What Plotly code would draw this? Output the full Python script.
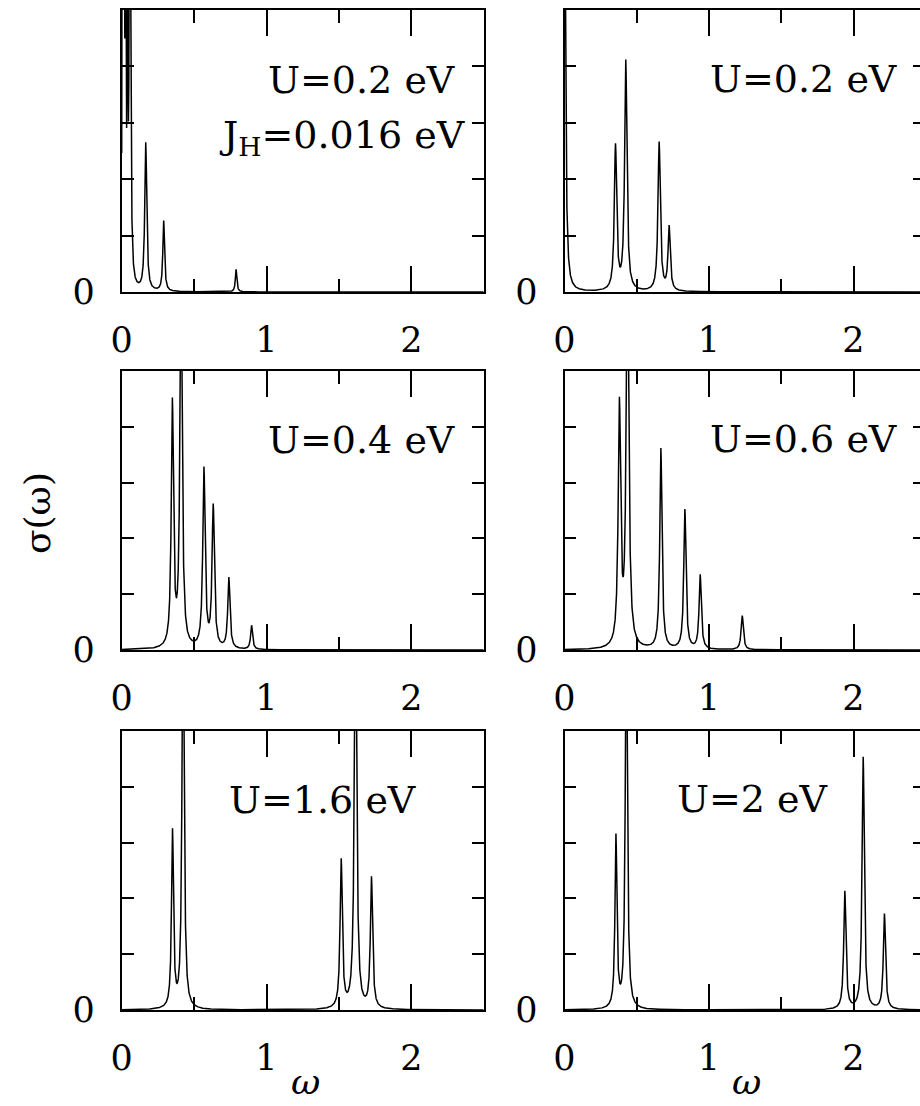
import numpy as np
import plotly.graph_objects as go

W, H = 920, 1106

# ---------------- data ----------------
omega_max = 2.5
omega_step = 0.0005

panel_labels = ["U=0.2 eV", "U=0.2 eV", "U=0.4 eV", "U=0.6 eV", "U=1.6 eV", "U=2 eV"]
x_tick_vals = [0, 1, 2]
x_tick_text = ["0", "1", "2"]
x_minor_vals = [0.5, 1.5]
y_tick_vals = [0]
y_tick_text = ["0"]
y_minor_vals = [1, 2, 3, 4, 5]

# peak positions (eV), peak heights (arb. units), half widths (eV)
peaks_1_pos = [0.006, 0.016, 0.027, 0.040, 0.057, 0.166, 0.290, 0.790]
peaks_1_height = [20.0, 18.0, 15.0, 10.0, 12.0, 2.62, 1.25, 0.40]
peaks_1_width = [0.002, 0.002, 0.002, 0.002, 0.0045, 0.008, 0.007, 0.006]

peaks_2_pos = [0.000, 0.353, 0.424, 0.655, 0.724]
peaks_2_height = [8.0, 2.56, 4.07, 2.64, 1.13]
peaks_2_width = [0.008, 0.0095, 0.0095, 0.0095, 0.009]

peaks_3_pos = [0.350, 0.410, 0.568, 0.632, 0.740, 0.897]
peaks_3_height = [4.36, 7.0, 3.20, 2.53, 1.27, 0.43]
peaks_3_width = [0.009, 0.009, 0.0095, 0.0095, 0.009, 0.008]

peaks_4_pos = [0.380, 0.436, 0.667, 0.833, 0.939, 1.230]
peaks_4_height = [4.30, 7.5, 3.59, 2.50, 1.33, 0.61]
peaks_4_width = [0.010, 0.010, 0.009, 0.009, 0.009, 0.009]

peaks_5_pos = [0.351, 0.424, 1.516, 1.615, 1.725]
peaks_5_height = [3.16, 8.0, 2.65, 8.0, 2.34]
peaks_5_width = [0.008, 0.008, 0.009, 0.009, 0.009]

peaks_6_pos = [0.356, 0.428, 1.940, 2.067, 2.214]
peaks_6_height = [3.07, 7.5, 2.11, 4.52, 1.71]
peaks_6_width = [0.008, 0.008, 0.009, 0.009, 0.009]

panels_pos = [peaks_1_pos, peaks_2_pos, peaks_3_pos, peaks_4_pos, peaks_5_pos, peaks_6_pos]
panels_height = [peaks_1_height, peaks_2_height, peaks_3_height,
                 peaks_4_height, peaks_5_height, peaks_6_height]
panels_width = [peaks_1_width, peaks_2_width, peaks_3_width,
                peaks_4_width, peaks_5_width, peaks_6_width]

# ---------------- build curves (Lorentzian broadened peaks) ----------------
omega = np.arange(0.0, omega_max + omega_step / 2, omega_step)


def spectrum(pos, hgt, wid):
    s = np.zeros_like(omega)
    for p, h, g in zip(pos, hgt, wid):
        s += h * g * g / ((omega - p) ** 2 + g * g)
    return s


FONT = "DejaVu Serif"

# geometry in pixels
col_x = [(121.7, 483.7), (564.5, 920.0)]
col_range = [[0, 2.5], [0, (920.0 - 564.5) / 144.5]]
row_y = [(10, 292), (371, 650), (731, 1010)]

fig = go.Figure()
layout = dict(
    width=W, height=H,
    margin=dict(l=0, r=0, t=0, b=0, pad=0, autoexpand=False),
    paper_bgcolor="white", plot_bgcolor="white",
    showlegend=False,
)

for i in range(6):
    row, col = divmod(i, 2)
    n = i + 1
    xs = "" if n == 1 else str(n)
    x0, x1 = col_x[col]
    yt, yb = row_y[row]
    sig = spectrum(panels_pos[i], panels_height[i], panels_width[i])
    fig.add_trace(go.Scatter(
        x=omega, y=sig, mode="lines",
        line=dict(color="black", width=1.5),
        xaxis="x" + xs, yaxis="y" + xs, hoverinfo="skip",
    ))
    layout["xaxis" + xs] = dict(
        domain=[x0 / W, x1 / W], range=col_range[col], anchor="y" + xs,
        showline=True, linecolor="black", linewidth=1.7, mirror="ticks",
        ticks="inside", tickvals=x_tick_vals, ticktext=x_tick_text,
        ticklen=26, tickwidth=1.5, tickcolor="black",
        minor=dict(tickvals=x_minor_vals, ticks="inside", ticklen=13,
                   tickwidth=1.5, tickcolor="black"),
        showgrid=False, zeroline=False, fixedrange=True, automargin=False,
        tickfont=dict(family=FONT, size=35, color="black"),
        ticklabelstandoff=16,
    )
    layout["yaxis" + xs] = dict(
        domain=[1 - yb / H, 1 - yt / H], range=[0, 5], anchor="x" + xs,
        showline=True, linecolor="black", linewidth=1.7,
        mirror="ticks" if col == 0 else False,
        ticks="inside", tickvals=y_tick_vals, ticktext=y_tick_text,
        ticklen=12, tickwidth=1.5, tickcolor="black",
        minor=dict(tickvals=y_minor_vals, ticks="inside", ticklen=12,
                   tickwidth=1.5, tickcolor="black"),
        showgrid=False, zeroline=False, fixedrange=True, automargin=False,
        tickfont=dict(family=FONT, size=35, color="black"),
        ticklabelstandoff=18,
    )

# right-side ticks of the right column (frame edge lies beyond the picture)
for k, base in enumerate([2, 4, 6]):
    n = 7 + k
    layout["yaxis%d" % n] = dict(
        overlaying="y%d" % base, side="right", anchor="x%d" % base,
        range=[0, 5], ticks="inside", tickvals=[1, 2, 3, 4], ticklen=7,
        tickwidth=1.5, tickcolor="black", showticklabels=False,
        showline=False, showgrid=False, zeroline=False, fixedrange=True,
        automargin=False,
    )
    fig.add_trace(go.Scatter(x=[None], y=[None], xaxis="x%d" % base,
                             yaxis="y%d" % n, hoverinfo="skip", mode="lines"))

fig.update_layout(**layout)


def px_ann(text, x, y, xanchor="center", size=38, angle=0, italic=False,
           yanchor="middle"):
    f = dict(family=FONT, size=size, color="black")
    if italic:
        f["style"] = "italic"
    fig.add_annotation(text=text, x=x / W, y=1 - y / H, xref="paper", yref="paper",
                       xanchor=xanchor, yanchor=yanchor, showarrow=False,
                       font=f, textangle=angle)


px_ann(panel_labels[0], 457, 80, "right")
px_ann("J<sub>H</sub>=0.016 eV", 467, 137, "right")
px_ann(panel_labels[1], 899, 79, "right")
px_ann(panel_labels[2], 457, 440, "right")
px_ann(panel_labels[3], 899, 439, "right")
px_ann(panel_labels[4], 322, 800, "center")
px_ann(panel_labels[5], 752, 799, "center")

px_ann("σ(ω)", 37, 513, "center", size=36, angle=-90)
px_ann("ω", 305, 1104, "center", size=36, italic=True, yanchor="bottom")
px_ann("ω", 746, 1104, "center", size=36, italic=True, yanchor="bottom")

fig.write_html("out.html")
